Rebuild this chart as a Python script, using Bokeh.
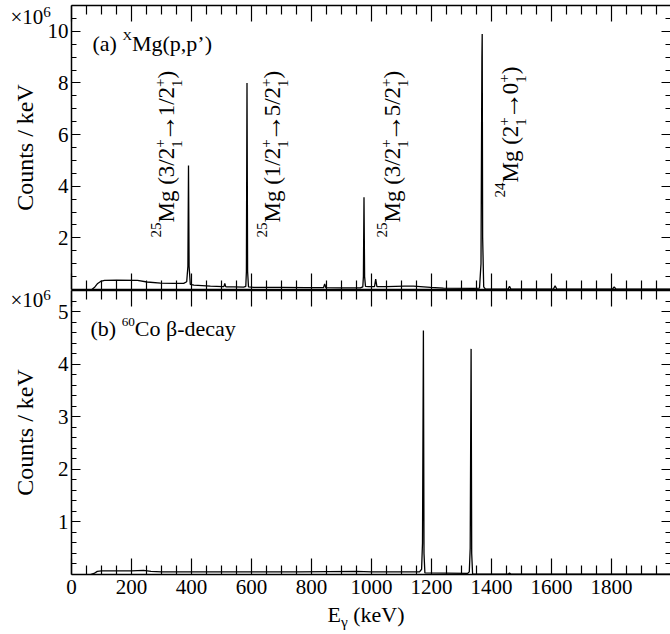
import numpy as np
from bokeh.plotting import figure
from bokeh.models import (Range1d, LinearAxis, FixedTicker, CustomJSTickFormatter,
                          ColumnDataSource, Grid)
from bokeh.core.properties import value, field
from bokeh.embed import file_html
from bokeh.resources import INLINE

# ---------------------------------------------------------------- data
# (a) natMg(p,p') gamma spectrum: energy (keV) and counts/keV (x 1e6)
energy_a = [68, 78, 86, 97, 110, 150, 220, 252, 297, 340, 374, 384, 388, 390, 392,
            396, 408, 463, 505, 508, 511, 514, 517, 541, 574, 581, 583, 585, 587,
            590, 608, 700, 780, 840, 844, 848, 900, 963, 971, 973, 975, 977, 980,
            990, 1010, 1014, 1018, 1050, 1110, 1140, 1197, 1240, 1340, 1360, 1365,
            1368, 1369, 1370.5, 1374, 1380, 1420, 1455, 1460, 1465, 1606, 1612,
            1618, 1803, 1809, 1815, 1997]
counts_a = [0.0, 0.10, 0.22, 0.31, 0.35, 0.36, 0.35, 0.29, 0.25, 0.24, 0.24, 0.30,
            0.90, 4.80, 0.90, 0.20, 0.17, 0.13, 0.11, 0.11, 0.24, 0.11, 0.10, 0.10,
            0.09, 0.12, 0.70, 8.00, 0.70, 0.10, 0.08, 0.08, 0.07, 0.07, 0.22, 0.07,
            0.06, 0.06, 0.10, 0.50, 3.57, 0.50, 0.12, 0.11, 0.11, 0.40, 0.11, 0.11,
            0.13, 0.13, 0.08, 0.05, 0.04, 0.05, 1.00, 9.00, 9.90, 2.00, 0.10, 0.015,
            0.01, 0.01, 0.12, 0.01, 0.01, 0.14, 0.01, 0.01, 0.10, 0.01, 0.01]

# (b) 60Co source spectrum
energy_b = [63, 75, 86, 100, 200, 240, 265, 300, 450, 600, 760, 950, 1000, 1100,
            1160, 1167, 1170, 1173, 1175, 1178, 1250, 1320, 1326, 1329, 1332, 1334,
            1337, 1455, 1460, 1465, 1997]
counts_b = [0.0, 0.02, 0.06, 0.07, 0.07, 0.08, 0.06, 0.05, 0.05, 0.05, 0.05, 0.06,
            0.05, 0.05, 0.05, 0.10, 0.60, 4.64, 0.40, 0.03, 0.025, 0.02, 0.05, 0.50,
            4.29, 0.40, 0.01, 0.005, 0.03, 0.005, 0.005]

x_ticks = list(range(0, 1801, 200))
x_minor = [e for e in range(50, 1951, 50) if e % 200]
y_ticks_a = [2, 4, 6, 8, 10]
y_minor_a = [v / 2 for v in range(1, 22) if v % 4]
y_ticks_b = [1, 2, 3, 4, 5]
y_minor_b = [v / 5 for v in range(1, 27) if v % 5]

# ---------------------------------------------------------------- geometry
FONT = "Liberation Serif"
W_PAGE, H_PAGE = 670, 634
LEFT = 71                        # page x of E = 0
PX_PER_KEV = 0.3
X_MAX = (W_PAGE - LEFT) / PX_PER_KEV
FRAME_H = 284
TOP_A = 5
Y_MAX_A = 11.0
Y_MAX_B = 5.4
PPU_A = FRAME_H / Y_MAX_A
PPU_B = FRAME_H / Y_MAX_B
BOT_A = TOP_A + FRAME_H          # page y of panel (a) zero line
BOT_B = BOT_A + 1 + FRAME_H      # page y of panel (b) zero line
K_BASE = 0.34                    # anchor-to-baseline shift, in em


def kev(px):
    return (px - LEFT) / PX_PER_KEV


def cnt_a(py):
    return (BOT_A - py) / PPU_A


def cnt_b(py):
    return (BOT_B - py) / PPU_B


# Times-metric advance widths (1/1000 em)
ADV = {' ': 250, '(': 333, ')': 333, '/': 278, 'M': 889, 'g': 500, '+': 564,
       '→': 1000, 'X': 722, 'a': 444, 'b': 500, 'p': 500, ',': 250, '’': 333,
       'C': 667, 'o': 500, '×': 564, 'E': 611, 'γ': 440}
for d in "0123456789":
    ADV[d] = 500


def tw(s):
    return sum(ADV.get(c, 500) for c in s) / 1000.0


def rich(segments, size, sup_scale=0.65, sup_raise=0.6, st_raise=0.42, st_drop=0.33,
         sub_drop=0.25):
    """Lay out text with superscripts / stacked sup+sub: (along, up, text, px)."""
    small = sup_scale * size
    out, a = [], 0.0
    for txt, kind in segments:
        if kind == "base":
            out.append((a, 0.0, txt, size))
            a += tw(txt) * size
        elif kind == "gap":
            a += tw(txt) * size
        elif kind == "arrow":
            big = 1.2 * size
            out.append((a - 0.1 * size, 0.0, txt, big))
            a += tw(txt) * size
        elif kind == "sup":
            out.append((a, sup_raise * size, txt, small))
            a += tw(txt) * small
        elif kind == "sub":
            out.append((a, -sub_drop * size, txt, small))
            a += tw(txt) * small
        elif kind == "stack":
            sp, sb = txt
            out.append((a, st_raise * size, sp, small))
            out.append((a, -st_drop * size, sb, small))
            a += max(tw(sp), tw(sb)) * small
    return out


# ---------------------------------------------------------------- figure
p = figure(width=W_PAGE, height=H_PAGE, output_backend="svg", toolbar_location=None,
           title=None, x_axis_location=None, y_axis_location=None,
           x_range=Range1d(kev(0), kev(W_PAGE)),
           y_range=Range1d(cnt_a(H_PAGE), cnt_a(0)),
           min_border=0, min_border_left=0, min_border_right=0,
           min_border_top=0, min_border_bottom=0)
p.extra_y_ranges = {"b": Range1d(cnt_b(H_PAGE), cnt_b(0))}
p.outline_line_color = None
p.background_fill_color = "white"
p.border_fill_color = "white"
for r in list(p.center):
    if isinstance(r, Grid):
        r.visible = False


def styled_axis(kind, loc, bounds, ticks, minor, tick_in, minor_in, labels=False,
                range_name="default"):
    ax = LinearAxis(fixed_location=loc, bounds=bounds,
                    ticker=FixedTicker(ticks=ticks, minor_ticks=minor),
                    y_range_name=range_name)
    ax.major_tick_in, ax.major_tick_out = tick_in, 0
    ax.minor_tick_in, ax.minor_tick_out = minor_in, 0
    ax.axis_line_width = 1.5
    ax.axis_line_color = "black"
    ax.major_tick_line_width = 1.2
    ax.minor_tick_line_width = 1.2
    ax.major_tick_line_color = "black"
    ax.minor_tick_line_color = "black"
    ax.major_label_text_font = FONT
    ax.major_label_text_font_size = "21px"
    ax.major_label_text_color = "black"
    if labels:
        ax.major_label_standoff = 5 if kind == "x" else 3
    else:
        ax.formatter = CustomJSTickFormatter(code="return ''")
        ax.major_label_standoff = 0
    return ax


def y_title(ax, standoff):
    ax.axis_label = "Counts / keV"
    ax.axis_label_text_font = FONT
    ax.axis_label_text_font_size = "24px"
    ax.axis_label_text_font_style = "normal"
    ax.axis_label_text_color = "black"
    ax.axis_label_standoff = standoff


for name, ymax, yt, ym, with_x, ystand in (("default", Y_MAX_A, y_ticks_a, y_minor_a, False, 7),
                                          ("b", Y_MAX_B, y_ticks_b, y_minor_b, True, 17)):
    top = styled_axis("x", ymax, (0, X_MAX), x_ticks, x_minor, 16, 9, range_name=name)
    bot = styled_axis("x", 0, (0, X_MAX), x_ticks, x_minor, 16, 9, labels=with_x,
                      range_name=name)
    lef = styled_axis("y", 0, (0, ymax), yt, ym, 9, 5, labels=True, range_name=name)
    rig = styled_axis("y", X_MAX, (0, ymax), yt, ym, 9, 5, range_name=name)
    rig.axis_line_color = None
    y_title(lef, ystand)
    p.add_layout(top, "above")
    p.add_layout(bot, "below")
    p.add_layout(lef, "left")
    p.add_layout(rig, "right")

p.line(energy_a, counts_a, line_color="black", line_width=1.3)
p.line(energy_b, counts_b, line_color="black", line_width=1.3, y_range_name="b")

# ---------------------------------------------------------------- annotations
STACK = ("+", "1")
peak_labels = [
    ([("25", "sup"), ("Mg (3/2", "base"), (STACK, "stack"), ("→", "arrow"),
      ("1/2", "base"), (STACK, "stack"), (")", "base")], 174, 237),
    ([("25", "sup"), ("Mg (1/2", "base"), (STACK, "stack"), ("→", "arrow"),
      ("5/2", "base"), (STACK, "stack"), (")", "base")], 280, 237),
    ([("25", "sup"), ("Mg (3/2", "base"), (STACK, "stack"), ("→", "arrow"),
      ("5/2", "base"), (STACK, "stack"), (")", "base")], 400, 237),
    ([("24", "sup"), ("Mg (2", "base"), (STACK, "stack"), ("→", "arrow"),
      ("0", "base"), (STACK, "stack"), (")", "base")], 518, 197),
]

rot = dict(x=[], y=[], text=[], fs=[])
for segs, base_px, start_py in peak_labels:
    for along, up, txt, size in rich(segs, 23):
        rot["x"].append(kev(base_px - up - K_BASE * size))
        rot["y"].append(cnt_a(start_py - along))
        rot["text"].append(txt)
        rot["fs"].append(f"{size:.1f}px")
p.text(x="x", y="y", text="text", source=ColumnDataSource(rot), angle=np.pi / 2,
       text_font=value(FONT), text_font_size=field("fs"), text_align="left",
       text_baseline="alphabetic", text_color="black")


def horiz(segs, sx, by, size, to_cnt, range_name="default", **kw):
    src = dict(x=[], y=[], text=[], fs=[])
    for along, up, txt, fsz in rich(segs, size, **kw):
        src["x"].append(kev(sx + along))
        src["y"].append(to_cnt(by - up - K_BASE * fsz))
        src["text"].append(txt)
        src["fs"].append(f"{fsz:.1f}px")
    p.text(x="x", y="y", text="text", source=ColumnDataSource(src),
           text_font=value(FONT), text_font_size=field("fs"), text_align="left",
           text_baseline="alphabetic", text_color="black", y_range_name=range_name)


# panel captions
horiz([("(a)", "base"), (" ", "gap"), ("X", "sup"), ("Mg(p,p’)", "base")], 92, 50, 22,
      cnt_a, sup_scale=0.6, sup_raise=0.5)
horiz([("(b)", "base"), (" ", "gap"), ("60", "sup"), ("Co β-decay", "base")], 90, 335, 22,
      cnt_b, range_name="b", sup_scale=0.6, sup_raise=0.4)

# multiplier marks at the top of each y axis
horiz([("×10", "base"), ("6", "sup")], 10, 24, 21, cnt_a, sup_scale=0.72, sup_raise=0.36)
horiz([("×10", "base"), ("6", "sup")], 10, 307, 21, cnt_b, range_name="b",
      sup_scale=0.72, sup_raise=0.36)

# x-axis title with a subscript gamma
horiz([("E", "base"), ("γ", "sub"), (" ", "gap"), ("(keV)", "base")], 327, 621, 22,
      cnt_b, range_name="b", sup_scale=0.7, sub_drop=0.22)

open("out.html", "w").write(file_html(p, INLINE))
